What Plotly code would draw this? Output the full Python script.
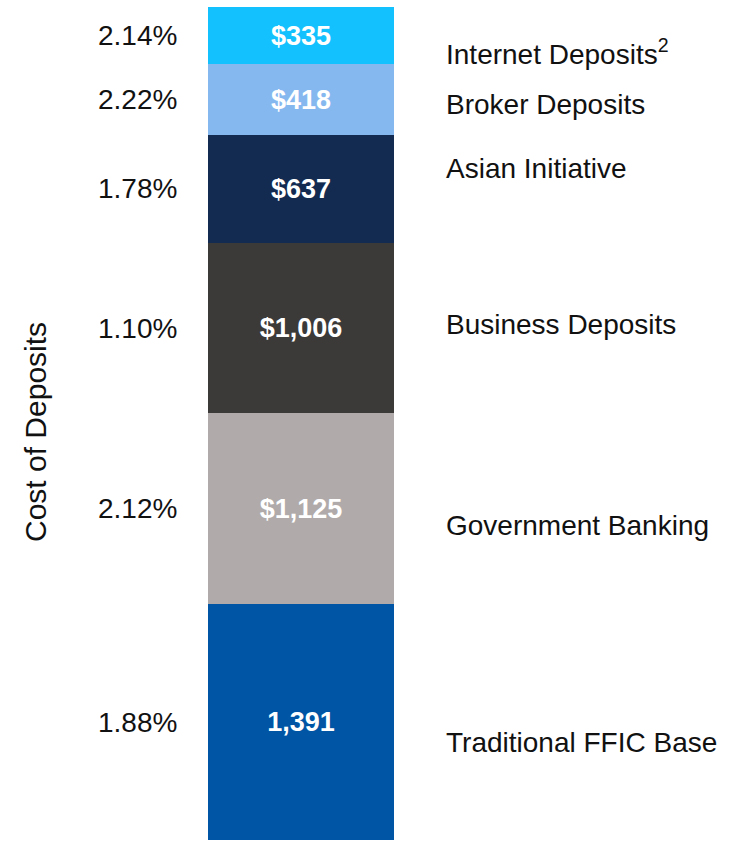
import plotly.graph_objects as go

# Data (bottom to top)
segments = ["Traditional FFIC Base", "Government Banking", "Business Deposits",
            "Asian Initiative", "Broker Deposits", "Internet Deposits<sup>2</sup>"]
values = [1391, 1125, 1006, 637, 418, 335]
value_labels = ["1,391", "$1,125", "$1,006", "$637", "$418", "$335"]
cost_labels = ["1.88%", "2.12%", "1.10%", "1.78%", "2.22%", "2.14%"]
colors = ["#0056A4", "#B0ABAA", "#3B3A39", "#132B50", "#86B8F0", "#13C1FE"]
label_shift = [-20, -17, 4, 20, -5, -17]

W, H = 730, 841
L, R, T, B = 208, 336, 7, 1
pw = W - L - R
ph = H - T - B

def px_to_paper_x(px):
    return (px - L) / pw

def px_to_paper_y(py):
    return (H - B - py) / ph

FONT = "Liberation Sans, Arial, sans-serif"

fig = go.Figure()
for name, v, vl, c in zip(segments, values, value_labels, colors):
    fig.add_trace(go.Bar(
        x=[0], y=[v], name=name, marker=dict(color=c, line=dict(width=0)),
        text=[vl], textposition="inside", insidetextanchor="middle",
        textfont=dict(family=FONT, size=27, color="white", weight="bold"),
        width=1, showlegend=False, hoverinfo="skip",
    ))

total = sum(values)
annotations = []
cum = 0
for name, v, cl, sh in zip(segments, values, cost_labels, label_shift):
    mid = cum + v / 2
    cum += v
    annotations.append(dict(
        xref="paper", yref="y", x=px_to_paper_x(179), y=mid, text=cl,
        showarrow=False, xanchor="right", yanchor="middle",
        font=dict(family=FONT, size=28, color="#111111"),
    ))
    annotations.append(dict(
        xref="paper", yref="y", x=px_to_paper_x(444), y=mid, yshift=sh, text=name,
        showarrow=False, xanchor="left", yanchor="middle",
        font=dict(family=FONT, size=28, color="#111111"),
    ))

annotations.append(dict(
    xref="paper", yref="paper", x=px_to_paper_x(35), y=px_to_paper_y(432),
    text="Cost of Deposits", textangle=-90, showarrow=False,
    xanchor="center", yanchor="middle",
    font=dict(family=FONT, size=30, color="#111111"),
))

fig.update_layout(
    width=W, height=H,
    margin=dict(l=L, r=R, t=T, b=B, pad=0),
    barmode="stack", bargap=0,
    plot_bgcolor="white", paper_bgcolor="white",
    xaxis=dict(visible=False, range=[-0.5, 0.5], fixedrange=True),
    yaxis=dict(visible=False, range=[0, total], fixedrange=True),
    annotations=annotations,
    uniformtext=dict(mode=False),
)

fig.write_html("out.html", config={"displayModeBar": False},
               post_script="document.body.style.margin='0';document.body.style.overflow='hidden';")
